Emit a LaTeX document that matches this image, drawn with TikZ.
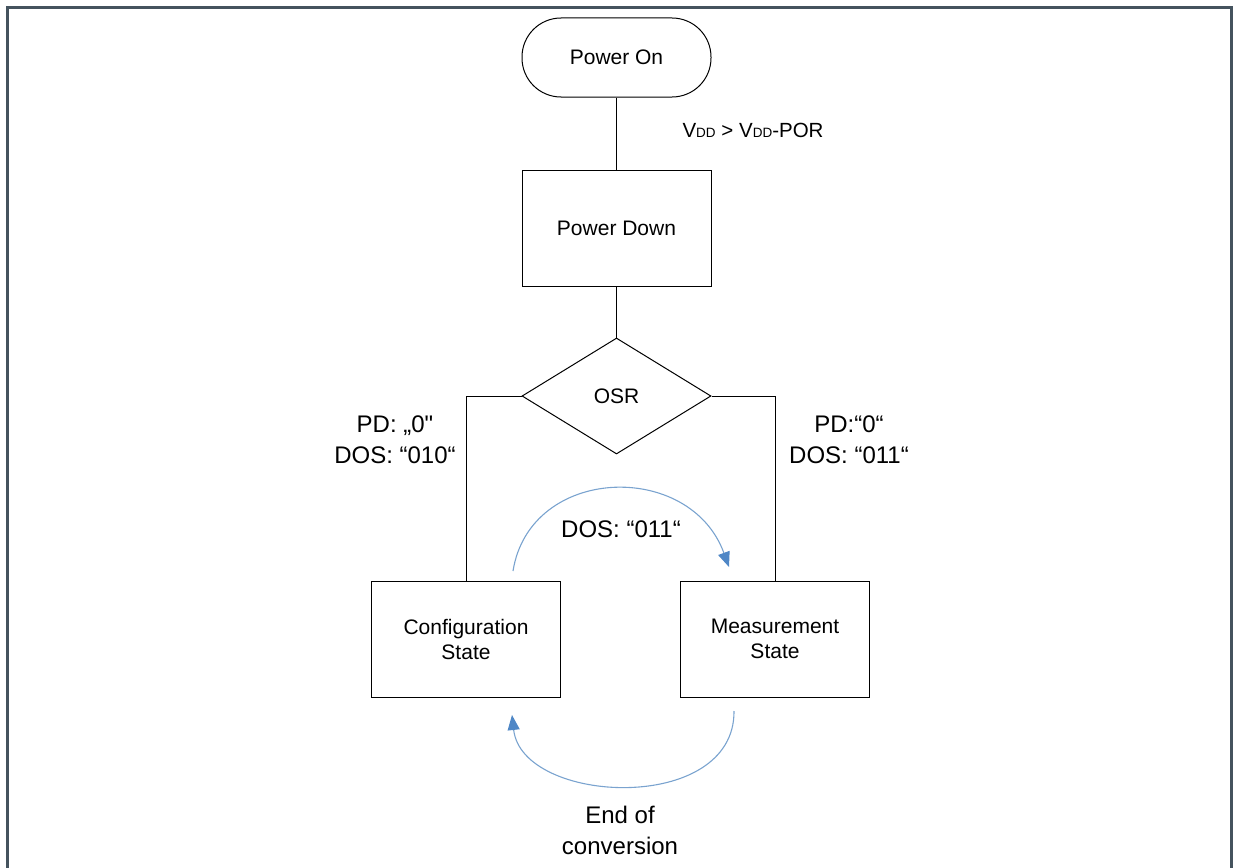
\documentclass[tikz,border=0pt]{standalone}
\usepackage{fontspec}
\setmainfont{Liberation Sans}
\usetikzlibrary{shapes.geometric,arrows.meta}
\definecolor{framec}{HTML}{45535E}
\definecolor{arcc}{HTML}{7AA3CF}
\definecolor{arrowc}{HTML}{4F87C6}
\newcommand{\straightq}{{\addfontfeatures{Ligatures=TeXOff}"}}
\tikzset{
  boxtext/.style={font=\fontsize{21}{25}\selectfont, align=center},
  lbl/.style={font=\fontsize{24}{31}\selectfont, align=center},
  statebox/.style={draw=black, line width=1pt, rectangle, minimum width=189pt, minimum height=116pt, inner sep=0pt, boxtext},
  termbox/.style={draw=black, line width=1pt, rectangle, rounded corners=39pt, minimum width=189pt, minimum height=79pt, inner sep=0pt, boxtext},
  decbox/.style={draw=black, line width=1pt, diamond, minimum width=189pt, minimum height=116pt, inner sep=0pt, boxtext},
  conn/.style={draw=black, line width=1pt},
  arcarrow/.style={draw=arcc, line width=1.1pt, -{Triangle[length=15pt,width=12pt,fill=arrowc,color=arrowc]}},
}
\begin{document}
\begin{tikzpicture}[x=1pt,y=-1pt]
\useasboundingbox (0,0) rectangle (1238,867);
% frame
\draw[framec, line width=3pt] (7.5,880) -- (7.5,7.5) -- (1231.5,7.5) -- (1231.5,880);

\node[termbox] (pon) at (616.5,57.5) {Power On};
\node[statebox] (pdn) at (616.5,228) {Power Down};
\node[decbox] (osr) at (616.5,396) {OSR};
\node[statebox] (cfg) at (466,639) {Configuration\\State};
\node[statebox] (meas) at (775,639) {Measurement\\State};

\draw[conn] (pon.south) -- (pdn.north);
\draw[conn] (pdn.south) -- (osr.north);
\draw[conn] (osr.west) -| (cfg.north);
\draw[conn] (osr.east) -| (meas.north);

\node[anchor=west, font=\fontsize{20.5}{24}\selectfont] (vdd) at (679,130) {V{\fontsize{13.5}{14}\selectfont DD} > V{\fontsize{13.5}{14}\selectfont DD}-POR};
\node[lbl] (lcond) at (395,440) {PD: „0\straightq\\DOS: “010“};
\node[lbl] (rcond) at (849,440) {PD:“0“\\DOS: “011“};
\node[lbl] (dos) at (621,529) {DOS: “011“};
\node[lbl] (eoc) at (620,830) {End of\\conversion};

\coordinate (a1s) at (513,571);
\coordinate (a1e) at (729,567);
\coordinate (a2s) at (734,711);
\coordinate (a2e) at (512,715);
\draw[arcarrow] (a1s) .. controls (530,465) and (690,460) .. (a1e);
\draw[arcarrow] (a2s) .. controls (735,815) and (522,805) .. (a2e);
\end{tikzpicture}
\end{document}
